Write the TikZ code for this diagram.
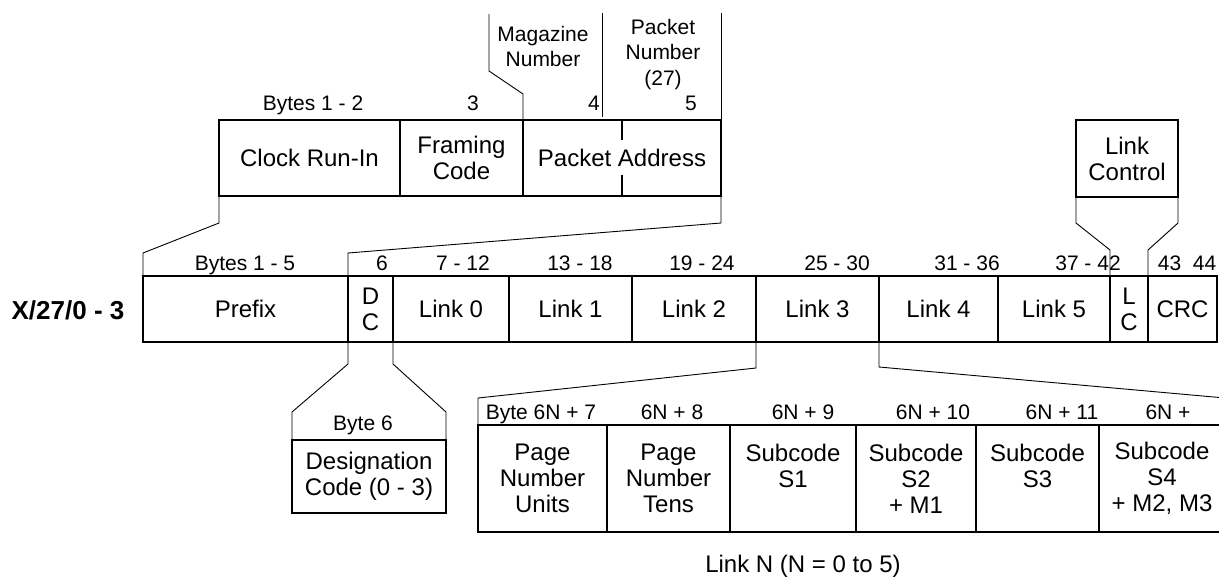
\documentclass[tikz,border=0pt]{standalone}
\usepackage{fontspec}
\setmainfont{Liberation Sans}
\usetikzlibrary{calc}

\tikzset{
  cell/.style={draw, line width=0.8pt, anchor=north west, outer sep=0pt, inner sep=1pt,
    align=center, font=\fontsize{12pt}{13pt}\selectfont},
  callout/.style={line width=0.45pt},
  divline/.style={line width=0.8pt},
  lbl/.style={inner sep=0pt, anchor=base, font=\fontsize{10.5pt}{12.75pt}\selectfont},
  note/.style={inner sep=0pt, anchor=north, align=center, font=\fontsize{10.5pt}{12.75pt}\selectfont},
}

\begin{document}
\begin{tikzpicture}[x=0.5pt,y=-0.5pt]
\clip (0,0) rectangle (1219,578);

\foreach \nm/\xa/\xb/\txt in {clock/219/400/{Clock Run-In}, framing/400/523/{Framing\\Code},
    paddr/523/721/{Packet Address}}
  \node[cell, minimum width={(\xb-\xa)*0.5pt}, minimum height=38pt] (\nm) at (\xa,120) {\txt};
\node[cell, minimum width=51pt, minimum height=38.5pt] (lctl) at (1076,120) {Link\\Control};

\foreach \x/\t [count=\i] in {313/Bytes 1 - 2, 473/3, 594/4, 691/5}
  \node[lbl] (toplbl\i) at (\x,110.5) {\t};
\node[note] (magnum) at (543,25.5) {Magazine\\Number};
\node[note] (pktnum) at (663,18.5) {Packet\\Number\\(27)};

\draw[callout] (framing.north east) -- ++(0,-26) -- ++(-34,-23) -- ++(0,-57);
\coordinate (pnleft) at (602,13);
\draw[callout] (pnleft) -- ++(0,104);
\draw[callout] (paddr.north east) -- ++(0,-107);
\draw[divline] (paddr.north) -- ++(0,20);
\draw[divline] (paddr.south) -- ++(0,-21);

\node[font=\fontsize{13pt}{15pt}\selectfont\bfseries, inner sep=0pt] (pktname) at (68,310) {X/27/0 - 3};
\foreach \nm/\xa/\xb/\txt in {prefix/143/348/Prefix, dc/348/393/{D\\C}, link0/393/509/{Link 0},
    link1/509/632/{Link 1}, link2/632/756/{Link 2}, link3/756/879/{Link 3}, link4/879/998/{Link 4},
    link5/998/1110/{Link 5}, lc/1110/1148/{L\\C}, crc/1148/1217/CRC}
  \node[cell, minimum width={(\xb-\xa)*0.5pt}, minimum height=33pt] (\nm) at (\xa,276) {\txt};
\foreach \x/\t [count=\i] in {245/Bytes 1 - 5, 382/6, 463/7 - 12, 580/13 - 18, 702/19 - 24,
    837/25 - 30, 967/31 - 36, 1088/37 - 42, 1187/43~~44}
  \node[lbl] (mainlbl\i) at (\x,270.5) {\t};

\draw[callout] (clock.south west) -- ++(0,27) -- ($(prefix.north west)+(0,-23)$) -- (prefix.north west);
\draw[callout] (paddr.south east) -- ++(0,27) -- ($(dc.north west)+(0,-23)$) -- (dc.north west);
\draw[callout] (lctl.south west) -- ++(0,26) -- ($(lc.north west)+(0,-26)$) -- (lc.north west);
\draw[callout] (lctl.south east) -- ++(0,26) -- ($(lc.north east)+(0,-26)$) -- (lc.north east);

\node[cell, minimum width=77pt, minimum height=36.5pt] (desig) at (292,440) {Designation\\Code (0 - 3)};
\node[lbl] (desiglbl) at (363,430.5) {Byte 6};
\draw[callout] (dc.south west) -- ++(0,22) -- ($(desig.north west)+(0,-28)$) -- (desig.north west);
\draw[callout] (dc.south east) -- ++(0,22) -- ($(desig.north east)+(0,-28)$) -- (desig.north east);

\foreach \nm/\xa/\xb/\txt in {pgunits/478/607/{Page\\Number\\Units}, pgtens/607/730/{Page\\Number\\Tens},
    subone/730/856/{Subcode\\S1\\~}, subtwo/856/976/{Subcode\\S2\\+ M1},
    subthree/976/1099/{Subcode\\S3\\~}, subfour/1099/1225/{Subcode\\S4\\+ M2, M3}}
  \node[cell, minimum width={(\xb-\xa)*0.5pt}, minimum height=53.5pt] (\nm) at (\xa,425) {\txt};
\foreach \x/\t [count=\i] in {541/Byte 6N + 7, 672/6N + 8, 803/6N + 9, 933/6N + 10, 1062/6N + 11, 1168/6N +}
  \node[lbl] (botlbl\i) at (\x,419.5) {\t};
\node[lbl, font=\fontsize{12pt}{13pt}\selectfont] (linkn) at (803,572.5) {Link N (N = 0 to 5)};

\draw[callout] (link3.south west) -- ++(0,26) -- ($(pgunits.north west)+(0,-27)$) -- (pgunits.north west);
\draw[callout] (link3.south east) -- ++(0,25) -- ($(subfour.north east)+(0,-27)$) -- (subfour.north east);

\end{tikzpicture}
\end{document}
